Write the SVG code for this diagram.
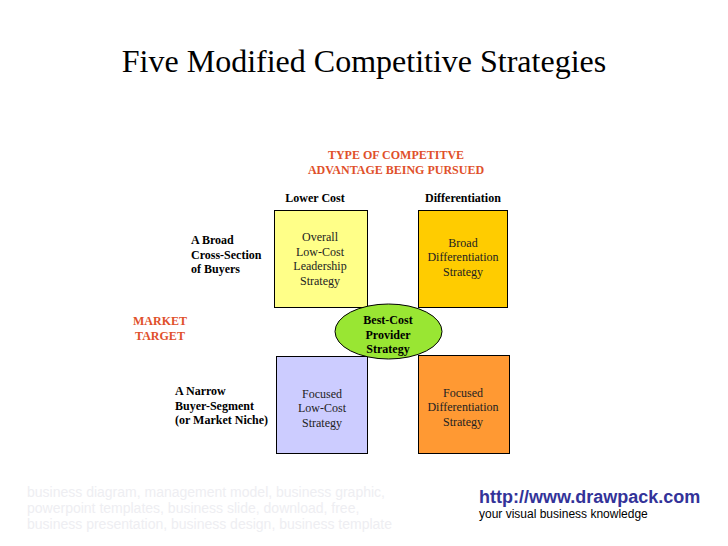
<svg xmlns="http://www.w3.org/2000/svg" width="728" height="546" viewBox="0 0 728 546">
<style>
.t{font-family:"Liberation Serif","Times New Roman",serif;}
.b{font-family:"Liberation Serif","Times New Roman",serif;font-weight:bold;font-size:12px;fill:#000;}
.r{font-family:"Liberation Serif","Times New Roman",serif;font-weight:bold;font-size:12px;fill:#E0502A;}
.n{font-family:"Liberation Serif","Times New Roman",serif;font-size:12px;fill:#222;text-anchor:middle;}
.box{stroke:#000;stroke-width:1;}
</style>
<rect width="728" height="546" fill="#fff"/>
<text class="t" x="364" y="72" font-size="32" text-anchor="middle" fill="#000">Five Modified Competitive Strategies</text>
<g id="header">
<text class="r" x="396" y="159" text-anchor="middle">TYPE OF COMPETITVE</text>
<text class="r" x="396" y="174" text-anchor="middle">ADVANTAGE BEING PURSUED</text>
<text class="b" x="315" y="202" text-anchor="middle">Lower Cost</text>
<text class="b" x="463" y="202" text-anchor="middle">Differentiation</text>
</g>
<g id="rowlabels">
<text class="b" x="191" y="244">A Broad</text>
<text class="b" x="191" y="259">Cross-Section</text>
<text class="b" x="191" y="273">of Buyers</text>
<text class="r" x="160" y="325" text-anchor="middle">MARKET</text>
<text class="r" x="160" y="340" text-anchor="middle">TARGET</text>
<text class="b" x="175" y="395">A Narrow</text>
<text class="b" x="175" y="410">Buyer-Segment</text>
<text class="b" x="175" y="424">(or Market Niche)</text>
</g>
<g id="overall-low-cost">
<rect class="box" x="274.5" y="210.5" width="93" height="97" fill="#FFFF88"/>
<text class="n" x="320" y="241">Overall</text>
<text class="n" x="320" y="256">Low-Cost</text>
<text class="n" x="320" y="270">Leadership</text>
<text class="n" x="320" y="285">Strategy</text>
</g>
<g id="broad-diff">
<rect class="box" x="418.5" y="210.5" width="89" height="97" fill="#FFCC00"/>
<text class="n" x="463" y="247">Broad</text>
<text class="n" x="463" y="261">Differentiation</text>
<text class="n" x="463" y="276">Strategy</text>
</g>
<g id="focused-low-cost">
<rect class="box" x="276.5" y="356.5" width="91" height="97" fill="#CCCCFF"/>
<text class="n" x="322" y="398">Focused</text>
<text class="n" x="322" y="412">Low-Cost</text>
<text class="n" x="322" y="427">Strategy</text>
</g>
<g id="focused-diff">
<rect class="box" x="418.5" y="355.5" width="91" height="98" fill="#FF9933"/>
<text class="n" x="463" y="397">Focused</text>
<text class="n" x="463" y="411">Differentiation</text>
<text class="n" x="463" y="426">Strategy</text>
</g>
<g id="best-cost">
<ellipse class="box" cx="388.5" cy="331.5" rx="53.5" ry="27.5" fill="#99E633"/>
<text class="b" x="388" y="324" text-anchor="middle">Best-Cost</text>
<text class="b" x="388" y="339" text-anchor="middle">Provider</text>
<text class="b" x="388" y="353" text-anchor="middle">Strategy</text>
</g>
<g id="connectors"></g>
<g id="footer" font-family="'Liberation Sans',Arial,sans-serif">
<text x="27" y="497" font-size="14" fill="#EEEEF2">business diagram, management model, business graphic,</text>
<text x="27" y="513" font-size="14" fill="#EEEEF2">powerpoint templates, business slide, download, free,</text>
<text x="27" y="529" font-size="14" fill="#EEEEF2">business presentation, business design, business template</text>
<text x="479" y="503" font-size="18" font-weight="bold" fill="#333399">http://www.drawpack.com</text>
<text x="479" y="518" font-size="12" fill="#000">your visual business knowledge</text>
</g>
</svg>
